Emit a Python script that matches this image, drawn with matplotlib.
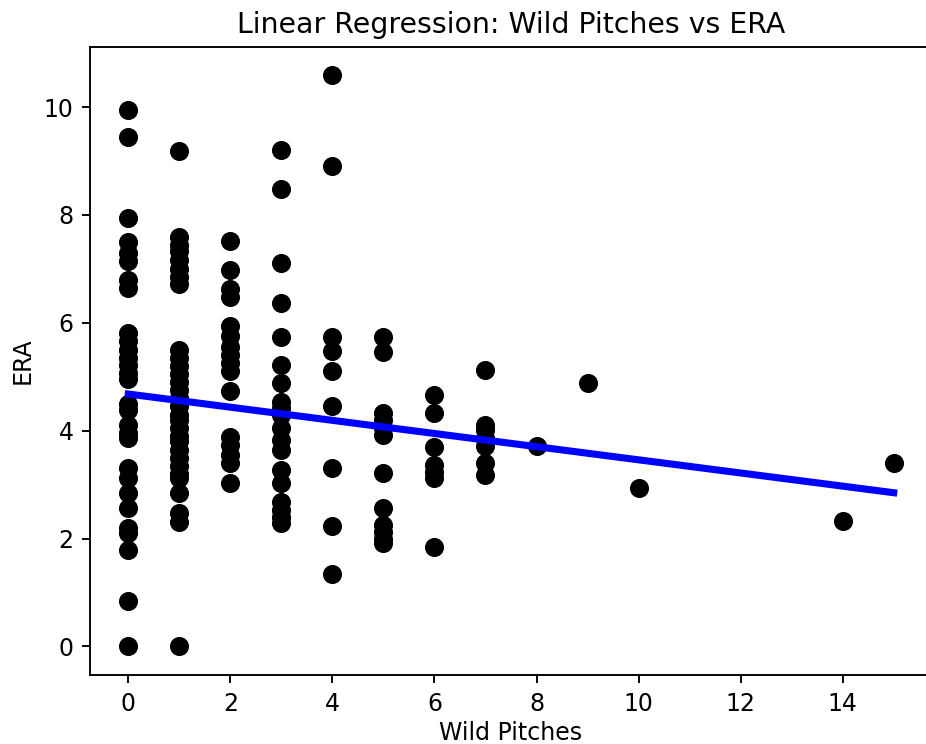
import numpy as np
import matplotlib
matplotlib.use("Agg")
import matplotlib.pyplot as plt

# ERA values, grouped by number of wild pitches
era_wp0 = [9.95, 9.45, 7.95, 7.5, 7.3, 7.15, 6.8, 6.65, 5.82, 5.66, 5.5, 5.35, 5.22,
           5.07, 4.95, 4.5, 4.38, 4.1, 3.95, 3.86, 3.31, 3.12, 2.84, 2.56, 2.19, 2.1,
           1.78, 0.85, 0.0]
era_wp1 = [9.18, 7.6, 7.45, 7.33, 7.17, 7.0, 6.85, 6.72, 5.5, 5.35, 5.2, 5.05, 4.9,
           4.76, 4.6, 4.45, 4.3, 4.2, 4.05, 3.9, 3.8, 3.64, 3.5, 3.35, 3.2, 3.12, 2.84,
           2.47, 2.31, 0.0]
era_wp2 = [7.51, 6.98, 6.62, 6.47, 5.94, 5.75, 5.56, 5.41, 5.26, 5.1, 4.73, 3.89,
           3.74, 3.55, 3.4, 3.03]
era_wp3 = [9.21, 8.48, 7.1, 6.37, 5.74, 5.22, 4.89, 4.54, 4.42, 4.3, 4.05, 3.83,
           3.64, 3.27, 3.03, 2.68, 2.53, 2.4, 2.28]
era_wp4 = [10.59, 8.9, 5.74, 5.47, 5.1, 4.45, 3.31, 2.23, 1.35]
era_wp5 = [5.74, 5.45, 4.33, 4.2, 4.05, 3.92, 3.21, 2.56, 2.25, 2.12, 2.0, 1.91]
era_wp6 = [4.67, 4.33, 3.7, 3.36, 3.24, 3.12, 1.85]
era_wp7 = [5.13, 4.11, 4.01, 3.86, 3.71, 3.4, 3.18]
era_wp8 = [3.72]
era_wp9 = [4.88]
era_wp10 = [2.93]
era_wp14 = [2.32]
era_wp15 = [3.4]

groups = {0: era_wp0, 1: era_wp1, 2: era_wp2, 3: era_wp3, 4: era_wp4, 5: era_wp5,
          6: era_wp6, 7: era_wp7, 8: era_wp8, 9: era_wp9, 10: era_wp10,
          14: era_wp14, 15: era_wp15}

# regression line as drawn in the chart
fit_intercept = 4.68
fit_slope = -0.122

wild_pitches = np.concatenate([[wp] * len(v) for wp, v in groups.items()]).astype(float)
era = np.concatenate(list(groups.values()))

x_line = np.array([wild_pitches.min(), wild_pitches.max()])
y_line = fit_slope * x_line + fit_intercept

DPI = 170
fig = plt.figure(figsize=(926 / DPI, 744 / DPI), dpi=DPI)
ax = fig.add_axes([90 / 926, 69 / 744, 842 / 926, 628.3 / 744])

ax.scatter(wild_pitches, era, color='black', s=50)
ax.plot(x_line, y_line, color='blue', linewidth=3)

ax.set_title('Linear Regression: Wild Pitches vs ERA')
ax.set_xlabel('Wild Pitches', labelpad=2.5)
ax.set_ylabel('ERA')
ax.set_xticks(np.arange(0, 16, 2))

fig.savefig('out.png', dpi=DPI)
